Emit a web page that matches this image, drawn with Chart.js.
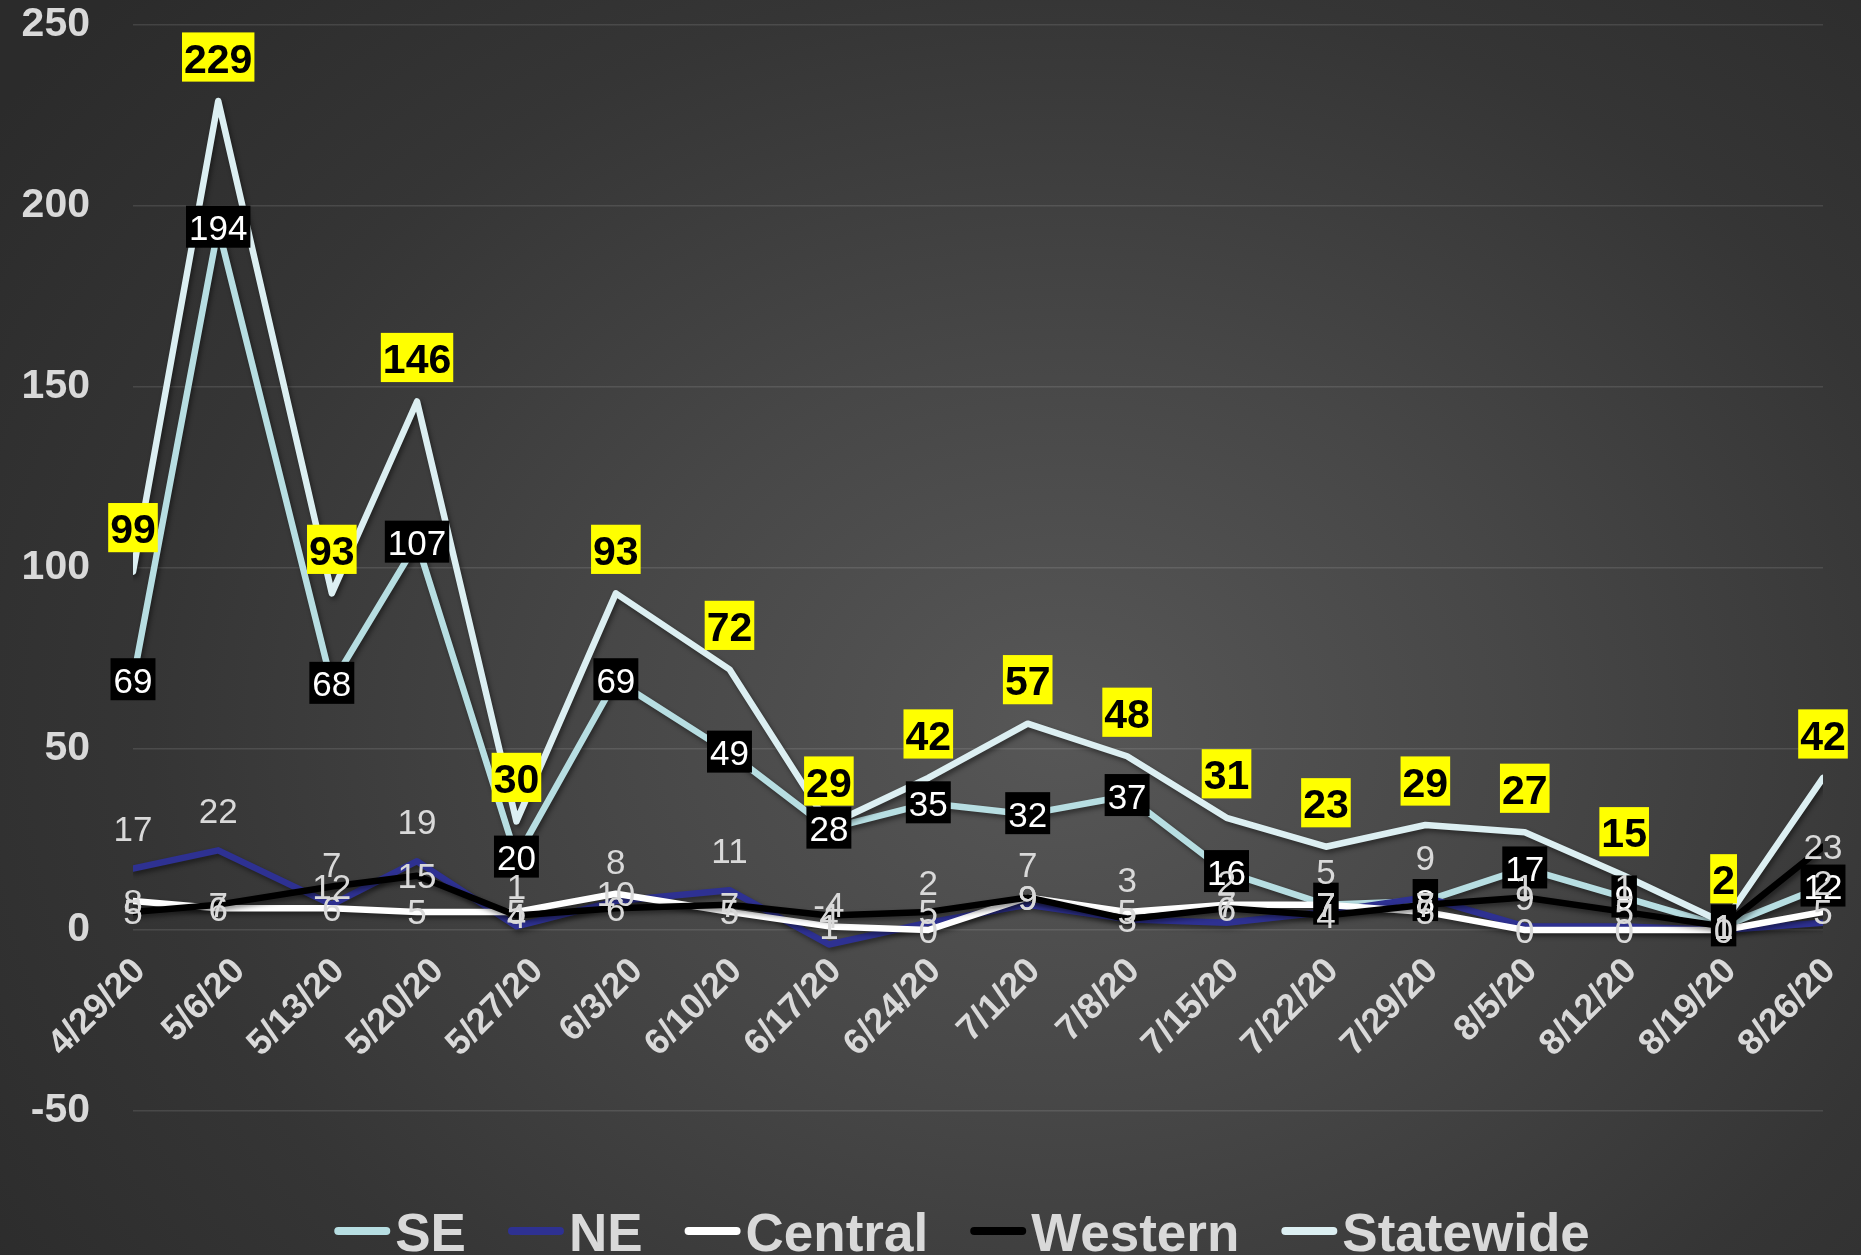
<!DOCTYPE html>
<html>
<head>
<meta charset="utf-8">
<script src="https://cdn.jsdelivr.net/npm/chart.js@4.4.1/dist/chart.umd.min.js"></script>
<style>
html,body{margin:0;padding:0;background:#2b2b2b;}
#wrap{width:1861px;height:1255px;position:relative;
  background:radial-gradient(ellipse 70% 85% at 57% 58%, #575757 0%, #474747 35%, #353535 70%, #2b2b2b 100%);}
canvas{display:block;}
</style>
</head>
<body>
<div id="wrap"><canvas id="c" width="1861" height="1255"></canvas></div>
<script>
// ---- data ----
// week labels on the date axis (one tick every 7 days from 4/29/20)
const categories = ['4/29/20','5/6/20','5/13/20','5/20/20','5/27/20','6/3/20','6/10/20','6/17/20','6/24/20','7/1/20','7/8/20','7/15/20','7/22/20','7/29/20','8/5/20','8/12/20','8/19/20','8/26/20'];
// day offset (from 4/29/20) at which each data point is plotted
const pointDays = [0,6,14,20,27,34,42,49,56,63,70,77,84,91,98,105,112,119];
const tickDays  = [0,7,14,21,28,35,42,49,56,63,70,77,84,91,98,105,112,119];
const seriesNames = ['SE','NE','Central','Western','Statewide'];
const seValues        = [69,194,68,107,20,69,49,28,35,32,37,16,7,8,17,9,1,12];
const neValues        = [17,22,7,19,1,8,11,-4,2,7,3,2,5,9,1,1,0,2];
const centralValues   = [8,6,6,5,5,10,5,1,0,9,5,7,7,5,0,0,0,5];
const westernValues   = [5,7,12,15,4,6,7,4,5,9,3,6,4,7,9,5,1,23];
const statewideValues = [99,229,93,146,30,93,72,29,42,57,48,31,23,29,27,15,2,42];
const yTickValues = [-50,0,50,100,150,200,250];

// ---- styles ----
const FONT = "'Liberation Sans', Arial, sans-serif";
const TEXT_GREY = '#D9D9D9';
const seriesColors = ['#B7DEE2','#2E3192','#FFFFFF','#000000','#DCEFF2'];
const drawOrder = [4,3,2,1,0]; // lower = drawn on top (Statewide on top)
const labelStyles = [
  {bg:'#000000', color:'#FFFFFF', size:35, weight:'normal', dy:0,   padX:3},
  {bg:null,      color:TEXT_GREY, size:35, weight:'normal', dy:-40, padX:0},
  {bg:null,      color:TEXT_GREY, size:35, weight:'normal', dy:0,   padX:0},
  {bg:null,      color:TEXT_GREY, size:35, weight:'normal', dy:0,   padX:0},
  {bg:'#FFFF00', color:'#000000', size:41, weight:'bold',   dy:-43, padX:2}
];
const legendStyle = {size:53, markerW:56, markerH:8, gap:5, itemGap:42, centerX:962, baseline:1251, markerY:1231};

const allValues = [seValues, neValues, centralValues, westernValues, statewideValues];

const datasets = seriesNames.map((name, i) => ({
  label: name,
  data: allValues[i].map((v, j) => ({ x: pointDays[j], y: v })),
  borderColor: seriesColors[i],
  backgroundColor: seriesColors[i],
  borderWidth: 6.5,
  pointRadius: 0,
  pointHoverRadius: 0,
  tension: 0,
  borderJoinStyle: 'round',
  borderCapStyle: 'round',
  fill: false,
  order: drawOrder[i]
}));

const shadowPlugin = {
  id: 'lineShadow',
  beforeDatasetDraw(chart) {
    const ctx = chart.ctx;
    ctx.save();
    ctx.shadowColor = 'rgba(0,0,0,0.45)';
    ctx.shadowBlur = 5;
    ctx.shadowOffsetX = 2;
    ctx.shadowOffsetY = 3;
  },
  afterDatasetDraw(chart) { chart.ctx.restore(); }
};

const labelPlugin = {
  id: 'valueLabels',
  afterDatasetsDraw(chart) {
    const ctx = chart.ctx;
    for (let i = 0; i < chart.data.datasets.length; i++) {
      const meta = chart.getDatasetMeta(i);
      const st = labelStyles[i];
      ctx.save();
      ctx.font = st.weight + ' ' + st.size + 'px ' + FONT;
      ctx.textAlign = 'center';
      ctx.textBaseline = 'alphabetic';
      meta.data.forEach((el, j) => {
        const v = chart.data.datasets[i].data[j].y;
        const txt = String(v);
        const cx = el.x;
        const cy = el.y + st.dy;
        if (st.bg) {
          const w = ctx.measureText(txt).width + st.padX * 2;
          const h = st.size * 1.2;
          ctx.fillStyle = st.bg;
          ctx.fillRect(cx - w / 2, cy - h / 2 - 1, w, h);
        }
        ctx.fillStyle = st.color;
        ctx.fillText(txt, cx, cy + st.size * 0.358);
      });
      ctx.restore();
    }
  }
};

const legendPlugin = {
  id: 'customLegend',
  afterDraw(chart) {
    const ctx = chart.ctx;
    const L = legendStyle;
    ctx.save();
    ctx.font = 'bold ' + L.size + 'px ' + FONT;
    ctx.textBaseline = 'alphabetic';
    ctx.textAlign = 'left';
    const names = chart.data.datasets.map(d => d.label);
    const widths = names.map(n => ctx.measureText(n).width);
    const total = widths.reduce((a, w) => a + L.markerW + L.gap + w, 0) + L.itemGap * (names.length - 1);
    let x = L.centerX - total / 2;
    names.forEach((n, i) => {
      ctx.fillStyle = chart.data.datasets[i].borderColor;
      ctx.beginPath();
      if (ctx.roundRect) ctx.roundRect(x, L.markerY - L.markerH / 2, L.markerW, L.markerH, L.markerH / 2);
      else ctx.rect(x, L.markerY - L.markerH / 2, L.markerW, L.markerH);
      ctx.fill();
      x += L.markerW + L.gap;
      ctx.fillStyle = TEXT_GREY;
      ctx.fillText(n, x, L.baseline);
      x += widths[i] + L.itemGap;
    });
    ctx.restore();
  }
};

new Chart(document.getElementById('c'), {
  type: 'line',
  data: { datasets },
  plugins: [shadowPlugin, labelPlugin, legendPlugin],
  options: {
    responsive: false,
    animation: false,
    parsing: true,
    layout: { padding: { top: 25, right: 38, bottom: 144, left: 0 } },
    scales: {
      x: {
        type: 'linear',
        position: { y: 0 },
        min: tickDays[0], max: tickDays[tickDays.length - 1],
        afterBuildTicks(scale) { scale.ticks = tickDays.map(v => ({ value: v })); },
        afterFit(scale) { scale.paddingLeft = 0; scale.paddingRight = 0; },
        grid: { display: false, drawTicks: false },
        border: { display: false },
        ticks: {
          autoSkip: false, minRotation: 45, maxRotation: 45, padding: 20, labelOffset: 7,
          callback: (v) => categories[tickDays.indexOf(v)],
          color: TEXT_GREY, font: { family: FONT, size: 36, weight: 'bold' }
        }
      },
      y: {
        min: yTickValues[0], max: yTickValues[yTickValues.length - 1],
        afterBuildTicks(scale) { scale.ticks = yTickValues.map(v => ({ value: v })); },
        afterFit(scale) { scale.width = 133; scale.paddingTop = 20; scale.paddingBottom = 20; },
        grid: { color: 'rgba(255,255,255,0.11)', lineWidth: 1.5, drawTicks: false },
        border: { display: false },
        ticks: { padding: 43, color: TEXT_GREY, font: { family: FONT, size: 41, weight: 'bold' } }
      }
    },
    plugins: {
      tooltip: { enabled: false },
      legend: { display: false }
    }
  }
});
</script>
</body>
</html>
